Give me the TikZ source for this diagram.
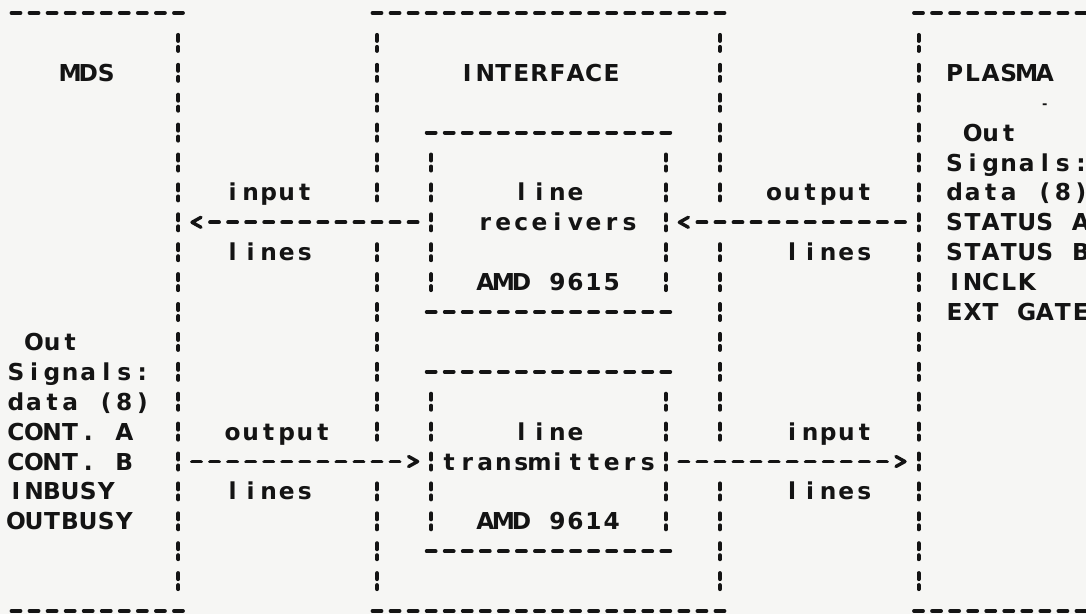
\documentclass[tikz,border=0pt]{standalone}
\usepackage{fontspec}
\setmainfont{DejaVu Sans}
\definecolor{inkc}{HTML}{141414}
\definecolor{paper}{HTML}{F6F6F4}
\newlength\cw \setlength\cw{18.05pt}
\newcommand\spc[1]{\spcloop#1\relax}
\def\spcloop#1{\ifx\relax#1\else\makebox[\cw]{#1}\expandafter\spcloop\fi}
\begin{document}
\begin{tikzpicture}[x=18.05pt,y=-29.9pt,
  hd/.style={draw=inkc,line width=3.8pt,line cap=round,dash pattern=on 9pt off 9.05pt},
  vd/.style={draw=inkc,line width=4pt,line cap=round,dash pattern=on 6pt off 6pt on 4pt off 13.9pt},
  chev/.style={draw=inkc,line width=3.4pt,line cap=round,line join=round},
  txt/.style={anchor=base west,inner sep=0pt,outer sep=0pt,text=inkc,
    font=\fontsize{23.3}{24}\selectfont\bfseries,xshift=-9.025pt,yshift=-8.5pt}]
\fill[paper] (-16pt,13pt) rectangle (1070pt,-601pt);
\useasboundingbox (-16pt,13pt) rectangle (1070pt,-601pt);

% ---------- frame coordinates ----------
\coordinate (mdsTL) at (0,0);   \coordinate (mdsTR) at (9,0);
\coordinate (mdsBL) at (0,20);  \coordinate (mdsBR) at (9,20);
\coordinate (ifTL) at (20,0);   \coordinate (ifTR) at (39,0);
\coordinate (ifBL) at (20,20);  \coordinate (ifBR) at (39,20);
\coordinate (plTL) at (50,0);   \coordinate (plTR) at (59,0);
\coordinate (plBL) at (50,20);  \coordinate (plBR) at (59,20);
\coordinate (rcvTL) at (23,4);  \coordinate (rcvTR) at (36,4);
\coordinate (rcvBL) at (23,10); \coordinate (rcvBR) at (36,10);
\coordinate (xmtTL) at (23,12); \coordinate (xmtTR) at (36,12);
\coordinate (xmtBL) at (23,18); \coordinate (xmtBR) at (36,18);

% ---------- horizontal dashed edges ----------
\foreach \a/\b in {mdsTL/mdsTR,mdsBL/mdsBR,ifTL/ifTR,ifBL/ifBR,plTL/plTR,plBL/plBR,
                   rcvTL/rcvTR,rcvBL/rcvBR,xmtTL/xmtTR,xmtBL/xmtBR}
  \draw[hd] ([xshift=-4.5pt]\a) -- ([xshift=4.5pt]\b);

% ---------- vertical dashed edges ----------
\draw[vd] ([yshift=8pt]9,1) -- ([yshift=-8pt]9,19);
\draw[vd] ([yshift=8pt]50,1) -- ([yshift=-8pt]50,19);
\foreach \c in {20,39}{
  \draw[vd] ([yshift=8pt]\c,1) -- ([yshift=-8pt]\c,6);
  \draw[vd] ([yshift=8pt]\c,8) -- ([yshift=-8pt]\c,14);
  \draw[vd] ([yshift=8pt]\c,16) -- ([yshift=-8pt]\c,19);
}
\foreach \c in {23,36}{
  \draw[vd] ([yshift=8pt]\c,5) -- ([yshift=-8pt]\c,9);
  \draw[vd] ([yshift=8pt]\c,13) -- ([yshift=-8pt]\c,17);
}

% ---------- texts ----------
\node[txt] (mds) at (3,2) {\spc{MDS}};
\node[txt] (iface) at (25,2) {\spc{INTERFACE}};
\node[txt] (plasma) at (52,2) {\spc{PLASMA}};
\node[txt,font=\fontsize{13}{14}\selectfont\bfseries,yshift=3pt] (tick) at (57,3) {\spc{-}};
\node[txt] (plout) at (53,4) {\spc{Out}};
\node[txt] (plsig) at (52,5) {\spc{Signals:}};
\node[txt] (pl1) at (52,6) {\spc{data~(8)}};
\node[txt] (pl2) at (52,7) {\spc{STATUS~A}};
\node[txt] (pl3) at (52,8) {\spc{STATUS~B}};
\node[txt] (pl4) at (52,9) {\spc{INCLK}};
\node[txt] (pl5) at (52,10) {\spc{EXT~GATE}};

\node[txt] (mdsout) at (1,11) {\spc{Out}};
\node[txt] (mdssig) at (0,12) {\spc{Signals:}};
\node[txt] (m1) at (0,13) {\spc{data~(8)}};
\node[txt] (m2) at (0,14) {\spc{CONT.~A}};
\node[txt] (m3) at (0,15) {\spc{CONT.~B}};
\node[txt] (m4) at (0,16) {\spc{INBUSY}};
\node[txt] (m5) at (0,17) {\spc{OUTBUSY}};

\node[txt] (rcv1) at (28,6) {\spc{line}};
\node[txt] (rcv2) at (26,7) {\spc{receivers}};
\node[txt] (rcv3) at (26,9) {\spc{AMD~9615}};
\node[txt] (xmt1) at (28,14) {\spc{line}};
\node[txt] (xmt2) at (24,15) {\spc{transmitters}};
\node[txt] (xmt3) at (26,17) {\spc{AMD~9614}};

\node[txt] (l1a) at (12,6) {\spc{input}};
\node[txt] (l1b) at (12,8) {\spc{lines}};
\node[txt] (r1a) at (42,6) {\spc{output}};
\node[txt] (r1b) at (43,8) {\spc{lines}};
\node[txt] (l2a) at (12,14) {\spc{output}};
\node[txt] (l2b) at (12,16) {\spc{lines}};
\node[txt] (r2a) at (43,14) {\spc{input}};
\node[txt] (r2b) at (43,16) {\spc{lines}};

% ---------- connectors ----------
% receivers -> MDS (input lines)
\coordinate (a1s) at (22,7); \coordinate (a1e) at (11,7); \coordinate (a1h) at (10,7);
\draw[hd] ([xshift=4.5pt]a1s) -- ([xshift=-4.5pt]a1e);
\draw[chev] ([shift={(4.5pt,5pt)}]a1h) -- ([xshift=-4.5pt]a1h) -- ([shift={(4.5pt,-5pt)}]a1h);
% PLASMA -> receivers (output lines)
\coordinate (a2s) at (49,7); \coordinate (a2e) at (38,7); \coordinate (a2h) at (37,7);
\draw[hd] ([xshift=4.5pt]a2s) -- ([xshift=-4.5pt]a2e);
\draw[chev] ([shift={(4.5pt,5pt)}]a2h) -- ([xshift=-4.5pt]a2h) -- ([shift={(4.5pt,-5pt)}]a2h);
% MDS -> transmitters (output lines)
\coordinate (a3s) at (10,15); \coordinate (a3e) at (21,15); \coordinate (a3h) at (22,15);
\draw[hd] ([xshift=-4.5pt]a3s) -- ([xshift=4.5pt]a3e);
\draw[chev] ([shift={(-4.5pt,5pt)}]a3h) -- ([xshift=4.5pt]a3h) -- ([shift={(-4.5pt,-5pt)}]a3h);
% transmitters -> PLASMA (input lines)
\coordinate (a4s) at (37,15); \coordinate (a4e) at (48,15); \coordinate (a4h) at (49,15);
\draw[hd] ([xshift=-4.5pt]a4s) -- ([xshift=4.5pt]a4e);
\draw[chev] ([shift={(-4.5pt,5pt)}]a4h) -- ([xshift=4.5pt]a4h) -- ([shift={(-4.5pt,-5pt)}]a4h);
\end{tikzpicture}
\end{document}
